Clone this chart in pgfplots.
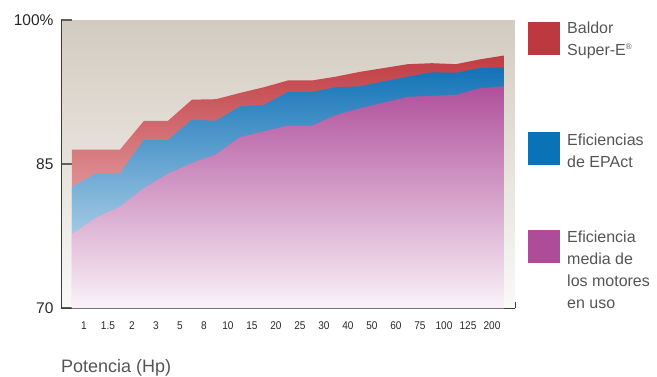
\documentclass[border=0pt]{standalone}
\usepackage{pgfplots}
\usepackage{pgfplotstable}
\pgfplotsset{compat=1.18}
\usepackage{fontspec}
\setmainfont{Liberation Sans}
\newfontfamily\narrowfont{Liberation Sans}[FakeStretch=0.9]

\definecolor{bgtop}{RGB}{211,203,192}
\definecolor{bgbot}{RGB}{250,249,247}
\definecolor{redtop}{RGB}{192,60,66}
\definecolor{redmid}{RGB}{225,160,163}
\definecolor{redbot}{RGB}{248,225,228}
\definecolor{bluetop}{RGB}{18,115,183}
\definecolor{bluemid}{RGB}{130,188,224}
\definecolor{bluebot}{RGB}{228,240,250}
\definecolor{magtop}{RGB}{176,80,156}
\definecolor{magmid}{RGB}{212,150,198}
\definecolor{magbot}{RGB}{250,242,248}
\definecolor{legred}{RGB}{190,56,64}
\definecolor{legblue}{RGB}{10,114,182}
\definecolor{legmag}{RGB}{174,76,154}
\definecolor{axisgray}{RGB}{60,60,60}
\definecolor{tickgray}{RGB}{95,95,95}
\definecolor{labgray}{RGB}{40,40,40}
\definecolor{legtext}{RGB}{85,85,85}

\pgfplotstableread{
x     red   blue  mag
-0.5  70    70    70
-0.5  86.5  82.6  77.7
0.5   86.5  84.0  79.4
1.5   86.5  84.0  80.55
2.5   89.5  87.5  82.5
3.5   89.5  87.5  84.0
4.5   91.7  89.6  85.1
5.5   91.75 89.5  86.0
6.5   92.4  91.0  87.8
7.5   93.0  91.15 88.4
8.5   93.7  92.5  89.0
9.5   93.7  92.5  89.0
10.5  94.1  93.0  90.1
11.5  94.6  93.1  90.8
12.5  95.0  93.6  91.4
13.5  95.4  94.1  92.0
14.5  95.5  94.55 92.1
15.5  95.4  94.5  92.2
16.5  95.9  95.0  92.9
17.5  96.3  95.05 93.1
17.5  70    70    70
}\datatable

\begin{document}
\begin{tikzpicture}[x=1pt,y=1pt]
\path[use as bounding box] (-61,-68) rectangle (596,308);
\begin{axis}[
  at={(0,0)}, anchor=south west,
  scale only axis, width=454pt, height=288pt,
  xmin=-0.9583, xmax=17.9583, ymin=70, ymax=100,
  axis x line*=bottom, axis y line*=left,
  axis line style={draw=axisgray, line width=0.8pt},
  xtick={0,...,17},
  xticklabels={1,1.5,2,3,5,8,10,15,20,25,30,40,50,60,75,100,125,200},
  extra x ticks={17.9583}, extra x tick labels={},
  ytick={70,85,100}, yticklabels={70,85,100\%},
  tick align=inside,
  xtick style={draw=axisgray, line width=0.8pt, /pgfplots/major tick length=6pt},
  ytick style={draw=tickgray, line width=1.2pt, /pgfplots/major tick length=11pt},
  x tick label style={font=\narrowfont\fontsize{11.2}{13}\selectfont, text=labgray, yshift=-10pt},
  y tick label style={font=\fontsize{15.5}{18}\selectfont, text=labgray, xshift=-4pt},
  axis background/.style={top color=bgtop, bottom color=bgbot},
]
\addplot[draw=none, shade, top color=redtop, middle color=redmid, bottom color=redbot]
  table[x=x, y=red] {\datatable};
\addplot[draw=none, shade, top color=bluetop, middle color=bluemid, bottom color=bluebot]
  table[x=x, y=blue] {\datatable};
\addplot[draw=none, shade, top color=magtop, middle color=magmid, bottom color=magbot]
  table[x=x, y=mag] {\datatable};
\end{axis}

% legend
\fill[legred]  (467,253) rectangle (499,286);
\fill[legblue] (467,143) rectangle (499,176);
\fill[legmag]  (467,45)  rectangle (499,78);
\begin{scope}[every node/.style={anchor=base west, inner sep=0, text=legtext, font=\fontsize{16}{22}\selectfont}]
\node at (506,274.3) {Baldor};
\node at (506,252.3) {Super-E\raisebox{6pt}{\fontsize{8}{8}\selectfont\textregistered}};
\node at (506,163) {Eficiencias};
\node at (506,141) {de EPAct};
\node at (506,66) {Eficiencia};
\node at (506,44) {media de};
\node at (506,22) {los motores};
\node at (506,0) {en uso};
\end{scope}
\node[anchor=base west, inner sep=0, text=legtext, font=\fontsize{18}{22}\selectfont] at (0,-64.7) {Potencia (Hp)};
\end{tikzpicture}
\end{document}
